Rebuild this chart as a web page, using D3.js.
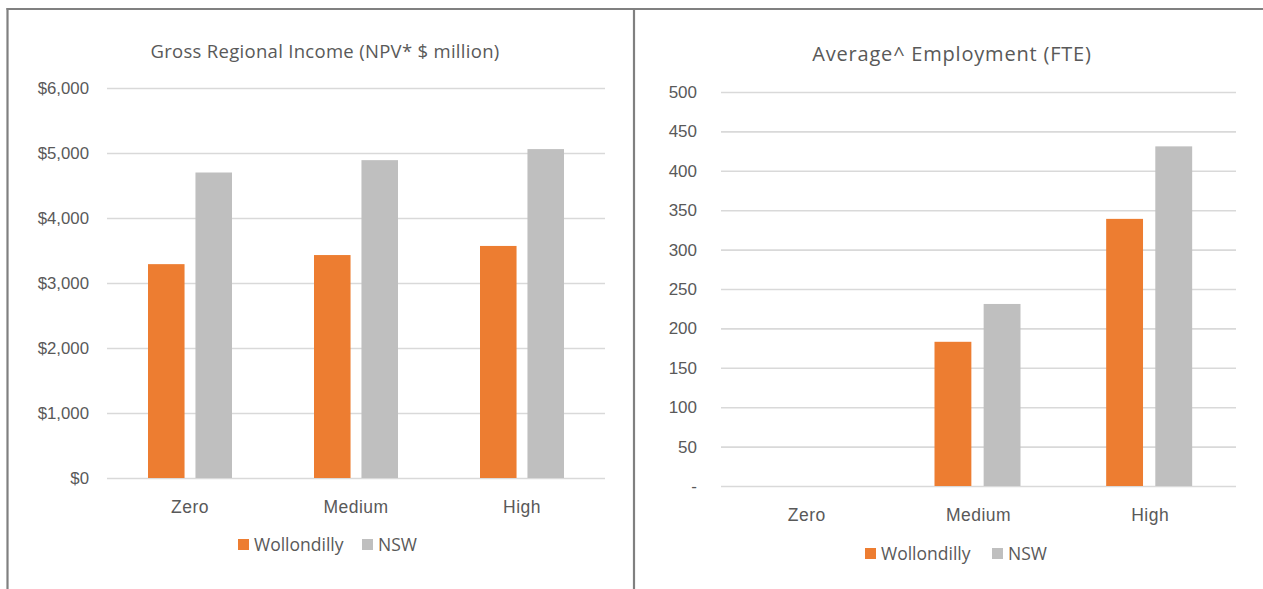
<!DOCTYPE html>
<html>
<head>
<meta charset="utf-8">
<script src="https://cdn.jsdelivr.net/npm/d3@7"></script>
<style>
  html, body { margin: 0; padding: 0; background: #fff; }
  svg { display: block; font-family: "Open Sans", "Noto Sans", sans-serif; }
</style>
</head>
<body>
<svg id="chart" width="1263" height="589"></svg>
<script>
// Scenario categories and series shared by both panels
const categories = ["Zero", "Medium", "High"];
const seriesNames = ["Wollondilly", "NSW"];
const seriesColors = ["#ED7D31", "#BFBFBF"];

// Gross Regional Income (NPV, $ million)
const griWollondilly = [3290, 3430, 3570];
const griNSW = [4700, 4890, 5060];
const griTicks = [0, 1000, 2000, 3000, 4000, 5000, 6000];

// Average employment (FTE)
const empWollondilly = [0, 183, 339];
const empNSW = [0, 231, 431];
const empTicks = [0, 50, 100, 150, 200, 250, 300, 350, 400, 450, 500];

const svg = d3.select("#chart");
const textColor = "#595959";
const gridColor = "#D9D9D9";

// Outer frame of the two panels
const frame = svg.append("g").attr("stroke", "#808080").attr("stroke-width", 2.2).attr("fill", "none");
frame.append("line").attr("x1", 6.5).attr("x2", 1263).attr("y1", 9).attr("y2", 9);
frame.append("line").attr("x1", 7.5).attr("x2", 7.5).attr("y1", 8).attr("y2", 589);
frame.append("line").attr("x1", 634).attr("x2", 634).attr("y1", 8).attr("y2", 589);

function drawPanel(cfg) {
  const g = svg.append("g");
  const x0 = d3.scaleBand().domain(categories).range([cfg.left, cfg.right]);
  const x1 = d3.scaleBand().domain(seriesNames)
    .range([cfg.groupLeft, cfg.groupRight]).paddingInner(cfg.innerPad);
  const y = d3.scaleLinear().domain([0, d3.max(cfg.ticks)]).range([cfg.bottom, cfg.top]);

  // Title
  g.append("text")
    .attr("x", cfg.titleX).attr("y", cfg.titleY)
    .attr("text-anchor", "middle")
    .attr("fill", textColor).attr("font-size", cfg.titleSize)
    .attr("letter-spacing", cfg.titleSpacing)
    .text(cfg.title);

  // Y axis with gridlines
  const yAxis = d3.axisLeft(y)
    .tickValues(cfg.ticks)
    .tickSize(-(cfg.right - cfg.left))
    .tickPadding(cfg.tickPad)
    .tickFormat(cfg.format);
  const ya = g.append("g").attr("transform", `translate(${cfg.left},0)`).call(yAxis);
  ya.select(".domain").remove();
  ya.selectAll(".tick line").attr("stroke", gridColor).attr("stroke-width", 1.6);
  ya.selectAll(".tick text").attr("fill", textColor).attr("font-size", cfg.tickSize)
    .attr("font-family", "inherit");

  // Bars
  const values = [cfg.a, cfg.b];
  const rows = categories.map((c, i) => ({ cat: c, vals: seriesNames.map((s, j) => ({ s, j, v: values[j][i] })) }));
  const grp = g.selectAll(".grp").data(rows).join("g")
    .attr("transform", d => `translate(${x0(d.cat) + x0.bandwidth() / 2},0)`);
  grp.selectAll("rect").data(d => d.vals.filter(e => e.v > 0)).join("rect")
    .attr("x", d => x1(d.s))
    .attr("width", x1.bandwidth())
    .attr("y", d => y(d.v))
    .attr("height", d => y(0) - y(d.v))
    .attr("fill", d => seriesColors[d.j]);

  // Category labels
  const xAxis = d3.axisBottom(x0).tickSize(0).tickPadding(cfg.catPad);
  const xa = g.append("g").attr("transform", `translate(0,${cfg.bottom})`).call(xAxis);
  xa.select(".domain").remove();
  xa.selectAll(".tick text").attr("fill", textColor).attr("font-size", cfg.catSize)
    .attr("letter-spacing", 0.5).attr("font-family", "inherit");

  // Legend
  const lg = g.append("g").attr("transform", `translate(${cfg.legendX},${cfg.legendY})`);
  const items = lg.selectAll("g").data(seriesNames).join("g")
    .attr("transform", (d, i) => `translate(${cfg.legendOffsets[i]},0)`);
  items.append("rect").attr("x", 0).attr("y", -6).attr("width", 11).attr("height", 11)
    .attr("fill", (d, i) => seriesColors[i]);
  items.append("text").attr("x", 16).attr("y", 0).attr("dy", "0.35em")
    .attr("fill", textColor).attr("font-size", cfg.legendSize).text(d => d);
}

drawPanel({
  title: "Gross Regional Income (NPV* $ million)",
  titleX: 325, titleY: 58, titleSize: 18.5, titleSpacing: 0.3,
  left: 107, right: 605, top: 88, bottom: 478,
  groupLeft: -42, groupRight: 42, innerPad: 0.23,
  ticks: griTicks, tickPad: 18, tickSize: 16.8,
  format: d => "$" + d3.format(",")(d),
  a: griWollondilly, b: griNSW,
  catPad: 23, catSize: 17.5,
  legendX: 238, legendY: 545, legendOffsets: [0, 124], legendSize: 17.5
});

drawPanel({
  title: "Average^ Employment (FTE)",
  titleX: 952, titleY: 61, titleSize: 20, titleSpacing: 0.8,
  left: 721, right: 1236, top: 92, bottom: 486,
  groupLeft: -44, groupRight: 42, innerPad: 0.25,
  ticks: empTicks, tickPad: 24, tickSize: 17,
  format: d => d === 0 ? "-" : d3.format(",")(d),
  a: empWollondilly, b: empNSW,
  catPad: 23, catSize: 17.5,
  legendX: 865, legendY: 554, legendOffsets: [0, 127], legendSize: 17.5
});
</script>
</body>
</html>
